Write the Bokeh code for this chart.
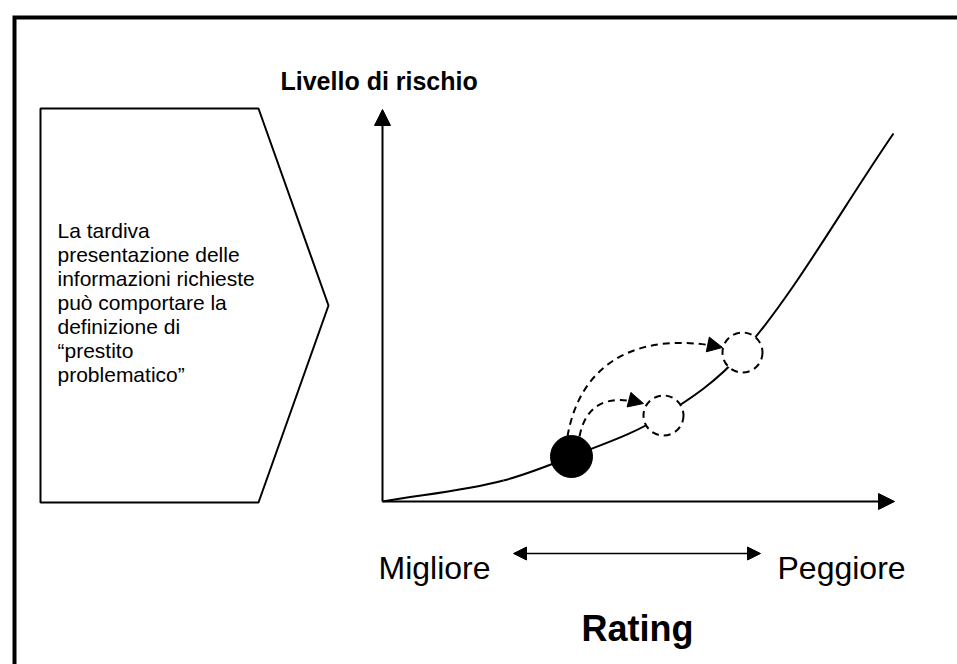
from bokeh.plotting import figure
from bokeh.models import Range1d, Arrow, NormalHead
from bokeh.core.properties import value
from bokeh.embed import file_html
from bokeh.resources import INLINE

W, H = 957, 664
FONT = "Liberation Sans"

# --- data (page-pixel positions of the schematic) ---
curve_x = [382, 503, 571, 663, 742, 893]
curve_y = [501, 480, 456, 415, 352, 133]

current_x = [571]
current_y = [456]
worse_x = [663, 742]
worse_y = [415, 352]

box_lines = ["La tardiva", "presentazione delle", "informazioni richieste",
             "può comportare la", "definizione di", "\u201cprestito", "problematico\u201d"]
y_title = "Livello di rischio"
x_title = "Rating"
left_label = "Migliore"
right_label = "Peggiore"

p = figure(width=W, height=H, output_backend="svg", toolbar_location=None,
           x_range=Range1d(0, W), y_range=Range1d(H, 0),
           x_axis_type=None, y_axis_type=None, min_border=0)
p.grid.visible = False
p.outline_line_color = None
p.background_fill_color = "white"
p.border_fill_color = "white"

# frame (left + top)
p.line([14, 14, W + 5], [H + 5, 17, 17], line_width=4, line_color="black", line_join="miter")

# chevron box
cx = [40, 258, 328, 258, 40]
cy = [108, 108, 305, 502, 502]
p.patch(cx, cy, fill_color="white", line_color="black", line_width=2)
for i, t in enumerate(box_lines):
    p.text(x=[57], y=[230 + 24 * i], text=[t], text_font=value(FONT), text_font_size="21px",
           text_baseline="alphabetic", text_align="left", text_color="black")

# axes
p.add_layout(Arrow(x_start=382, y_start=501, x_end=382, y_end=109, line_width=2,
                   end=NormalHead(size=16, fill_color="black", line_color="black")))
p.add_layout(Arrow(x_start=382, y_start=501, x_end=894, y_end=501, line_width=2,
                   end=NormalHead(size=16, fill_color="black", line_color="black")))

# risk curve: smooth cubic segments through the knots
n = len(curve_x)
sec = [(curve_y[i + 1] - curve_y[i]) / (curve_x[i + 1] - curve_x[i]) for i in range(n - 1)]
slope = [sec[0]] + [(sec[i - 1] + sec[i]) / 2 for i in range(1, n - 1)] + [sec[-1]]
bx0, by0, bx1, by1, bc0x, bc0y, bc1x, bc1y = [], [], [], [], [], [], [], []
for i in range(n - 1):
    d = (curve_x[i + 1] - curve_x[i]) / 3
    bx0.append(curve_x[i]); by0.append(curve_y[i])
    bx1.append(curve_x[i + 1]); by1.append(curve_y[i + 1])
    bc0x.append(curve_x[i] + d); bc0y.append(curve_y[i] + slope[i] * d)
    bc1x.append(curve_x[i + 1] - d); bc1y.append(curve_y[i + 1] - slope[i + 1] * d)
p.bezier(x0=bx0, y0=by0, x1=bx1, y1=by1, cx0=bc0x, cy0=bc0y, cx1=bc1x, cy1=bc1y,
         line_color="black", line_width=2)

# migration arrows (dashed)
arc_x0 = [567, 579]; arc_y0 = [436, 436]
arc_x1 = [722, 643]; arc_y1 = [347, 403]
arc_c0x = [580, 585]; arc_c0y = [360, 405]
arc_c1x = [640, 605]; arc_c1y = [330, 393]
p.bezier(x0=arc_x0, y0=arc_y0, x1=arc_x1, y1=arc_y1, cx0=arc_c0x, cy0=arc_c0y,
         cx1=arc_c1x, cy1=arc_c1y, line_color="black", line_width=2, line_dash="7 5")
for i in range(2):
    dx = arc_x1[i] - arc_c1x[i]; dy = arc_y1[i] - arc_c1y[i]
    L = (dx * dx + dy * dy) ** 0.5
    p.add_layout(Arrow(x_start=arc_x1[i] - 4 * dx / L, y_start=arc_y1[i] - 4 * dy / L,
                       x_end=arc_x1[i], y_end=arc_y1[i], line_alpha=0,
                       end=NormalHead(size=15, fill_color="black", line_color="black")))

# states
p.scatter(worse_x, worse_y, size=40, marker="circle", fill_color="white",
          line_color="black", line_width=2, line_dash="7 5")
p.scatter(current_x, current_y, size=42, marker="circle", fill_color="black", line_color="black")

# titles and labels
p.text(x=[280], y=[80], text=[y_title], text_font=value(FONT), text_font_size="25px",
       text_font_style="bold", text_baseline="alphabetic", text_color="black")
p.text(x=[378], y=[567], text=[left_label], text_font=value(FONT), text_font_size="32px",
       text_baseline="alphabetic", text_color="black")
p.text(x=[777], y=[567], text=[right_label], text_font=value(FONT), text_font_size="32px",
       text_baseline="alphabetic", text_color="black")
p.add_layout(Arrow(x_start=513, y_start=553, x_end=760, y_end=553, line_width=1.5,
                   start=NormalHead(size=13, fill_color="black", line_color="black"),
                   end=NormalHead(size=13, fill_color="black", line_color="black")))
p.text(x=[637], y=[628], text=[x_title], text_font=value(FONT), text_font_size="36px",
       text_font_style="bold", text_baseline="alphabetic", text_align="center", text_color="black")

open("out.html", "w").write(file_html(p, INLINE))
